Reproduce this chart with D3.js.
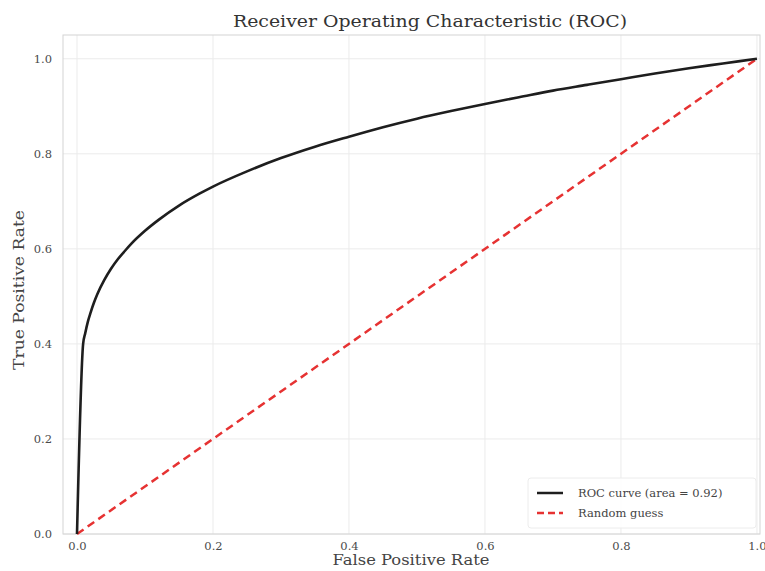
<!DOCTYPE html>
<html><head><meta charset="utf-8">
<script src="https://cdn.jsdelivr.net/npm/d3@7"></script>
<style>body{margin:0;background:#fff}svg{display:block}</style>
</head><body><svg id="c" width="765" height="571"></svg>
<script>
const fpr = [0, 0.009, 0.012, 0.016, 0.02, 0.025, 0.03, 0.04, 0.05, 0.06, 0.07, 0.08, 0.10, 0.12, 0.15, 0.18, 0.20, 0.25, 0.30, 0.35, 0.40, 0.45, 0.50, 0.55, 0.60, 0.65, 0.70, 0.75, 0.80, 0.85, 0.90, 0.95, 1.0];
const tpr = [0, 0.400, 0.422, 0.447, 0.466, 0.487, 0.505, 0.534, 0.558, 0.578, 0.595, 0.611, 0.638, 0.661, 0.691, 0.716, 0.731, 0.763, 0.791, 0.815, 0.836, 0.856, 0.874, 0.890, 0.905, 0.919, 0.933, 0.945, 0.957, 0.969, 0.980, 0.990, 1.0];
const diagX = [0, 1];
const diagY = [0, 1];
const xTicks = [0.0, 0.2, 0.4, 0.6, 0.8, 1.0];
const yTicks = [0.0, 0.2, 0.4, 0.6, 0.8, 1.0];
const title = "Receiver Operating Characteristic (ROC)";
const xLabel = "False Positive Rate";
const yLabel = "True Positive Rate";
const legendLabels = ["ROC curve (area = 0.92)", "Random guess"];

const svg = d3.select("#c");
const L = 63, R = 760, T = 35, B = 534;
const x = d3.scaleLinear().domain([-0.0206, 1.0045]).range([L, R]);
const y = d3.scaleLinear().domain([0, 1.05]).range([B, T]);
const font = "'DejaVu Serif', serif";

// grid
const g = svg.append("g");
g.selectAll(".gx").data(xTicks).join("line")
  .attr("x1", d => x(d)).attr("x2", d => x(d)).attr("y1", T).attr("y2", B)
  .attr("stroke", "#ebebeb").attr("stroke-width", 1);
g.selectAll(".gy").data(yTicks).join("line")
  .attr("y1", d => y(d)).attr("y2", d => y(d)).attr("x1", L).attr("x2", R)
  .attr("stroke", "#ebebeb").attr("stroke-width", 1);

// frame
svg.append("rect").attr("x", L).attr("y", T).attr("width", R - L).attr("height", B - T)
  .attr("fill", "none").attr("stroke", "#d4d4d4").attr("stroke-width", 1);

// axes tick labels
const xAxis = d3.axisBottom(x).tickValues(xTicks).tickFormat(d3.format(".1f")).tickSize(0).tickPadding(8);
const ya = d3.axisLeft(y).tickValues(yTicks).tickFormat(d3.format(".1f")).tickSize(0).tickPadding(11);
const gx = svg.append("g").attr("transform", `translate(0,${B})`).call(xAxis);
const gy = svg.append("g").attr("transform", `translate(${L},0)`).call(ya);
[gx, gy].forEach(a => {
  a.select(".domain").remove();
  a.selectAll("text").attr("font-family", font).attr("font-size", 11.5).attr("fill", "#4a4a4a");
});

// diagonal
const line = d3.line().x(d => x(d[0])).y(d => y(d[1]));
svg.append("path").datum(diagX.map((d, i) => [d, diagY[i]]))
  .attr("d", line).attr("fill", "none").attr("stroke", "#e63232")
  .attr("stroke-width", 2.5).attr("stroke-dasharray", "8,5");

// ROC curve
svg.append("path").datum(fpr.map((d, i) => [d, tpr[i]]))
  .attr("d", line.curve(d3.curveMonotoneX)).attr("fill", "none").attr("stroke", "#1e1e1e")
  .attr("stroke-width", 2.6).attr("stroke-linejoin", "round");

// title & labels
svg.append("text").attr("x", 430).attr("y", 27).attr("text-anchor", "middle")
  .attr("font-family", font).attr("font-size", 17).attr("fill", "#333")
  .attr("textLength", 394).attr("lengthAdjust", "spacingAndGlyphs").text(title);
svg.append("text").attr("x", 411).attr("y", 565).attr("text-anchor", "middle")
  .attr("font-family", font).attr("font-size", 14).attr("fill", "#444")
  .attr("textLength", 157).attr("lengthAdjust", "spacingAndGlyphs").text(xLabel);
svg.append("text").attr("transform", "translate(24,290) rotate(-90)").attr("text-anchor", "middle")
  .attr("font-family", font).attr("font-size", 14).attr("fill", "#444")
  .attr("textLength", 160).attr("lengthAdjust", "spacingAndGlyphs").text(yLabel);

// legend
const lg = svg.append("g");
lg.append("rect").attr("x", 528).attr("y", 478).attr("width", 228).attr("height", 50).attr("rx", 3)
  .attr("fill", "#fff").attr("fill-opacity", 0.85).attr("stroke", "#ececec");
const lstyles = [{c: "#1e1e1e", dash: null}, {c: "#e63232", dash: "7,4"}];
legendLabels.forEach((t, i) => {
  const yy = 493 + i * 20;
  lg.append("line").attr("x1", 537).attr("x2", 563).attr("y1", yy).attr("y2", yy)
    .attr("stroke", lstyles[i].c).attr("stroke-width", 2.5).attr("stroke-dasharray", lstyles[i].dash);
  lg.append("text").attr("x", 578).attr("y", yy + 4).attr("font-family", font).attr("font-size", 11.5)
    .attr("fill", "#444").text(t);
});
</script></body></html>
